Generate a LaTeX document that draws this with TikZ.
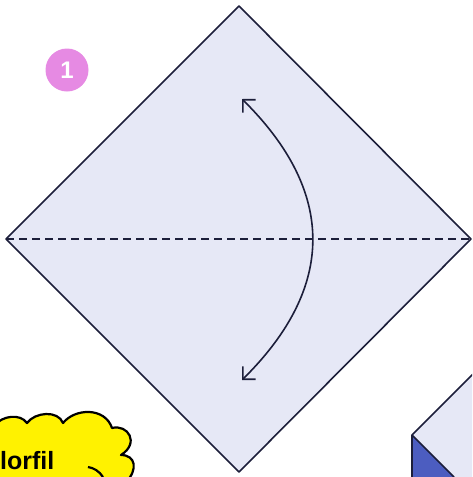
\documentclass[tikz,border=0pt]{standalone}
\usepackage{fontspec}
\setmainfont{Liberation Sans}
\usetikzlibrary{arrows.meta}
\definecolor{paper}{HTML}{E6E8F6}
\definecolor{ink}{HTML}{1C1E3A}
\definecolor{deepblue}{HTML}{4C5DC0}
\definecolor{badge}{HTML}{E68AE3}
\begin{document}
\begin{tikzpicture}[x=1pt,y=-1pt,
  edge/.style={draw=ink,line width=1.6pt,line join=round},
  foldline/.style={draw=ink,line width=1.5pt,dash pattern=on 8pt off 5pt},
  foldarrow/.style={draw=ink,line width=1.6pt,{Straight Barb[length=9pt,width=18pt]}-{Straight Barb[length=9pt,width=18pt]}},
  stepbadge/.style={circle,fill=badge,minimum size=43pt,inner sep=0pt,text=white,font=\bfseries\fontsize{24}{24}\selectfont},
  callout/.style={draw=black,line width=2.2pt,fill=yellow,line join=round}
]
\useasboundingbox (0,0) rectangle (472,477);
\begin{scope}
\clip (0,0) rectangle (472,477);
% main square
\coordinate (T) at (239,6);
\coordinate (L) at (6,239);
\coordinate (R) at (471,239);
\coordinate (B) at (239,472);
\filldraw[edge,fill=paper] (T) -- (R) -- (B) -- (L) -- cycle;
\draw[foldline] (L) -- (R);
% fold arrow
\coordinate (A1) at (242,99);
\coordinate (A2) at (242,380);
\draw[foldarrow] (A1) .. controls (336,192) and (336,287) .. (A2);
% step badge
\node[stepbadge] (n1) at (67,70) {1};
% next model piece (bottom right)
\coordinate (P) at (412,435);
\coordinate (PU) at (475,372);
\coordinate (PD) at (454,477);
\coordinate (PV) at (412,480);
\fill[paper] (P) -- (PU) -- (480,372) -- (480,480) -- (PV) -- cycle;
\fill[deepblue] (P) -- (PD) -- (PV) -- cycle;
\draw[edge] (PU) -- (P) -- (PV);
\draw[edge] (P) -- (PD);
% cloud callout
\filldraw[callout] (-5,425) .. controls (2,416) and (20,413) .. (27,423)
  .. controls (35,412) and (58,410) .. (63,423)
  .. controls (75,408) and (105,407) .. (112,428)
  .. controls (128,424) and (140,443) .. (121,455)
  .. controls (136,455) and (138,470) .. (126,482)
  -- (-5,482) -- cycle;
\node[anchor=base west,font=\bfseries\fontsize{25}{25}\selectfont,inner sep=0pt] (t) at (0,469) {lorfil};
\draw[black,line width=2.2pt] (88,467) .. controls (94,468) and (99,471) .. (103,477);
\end{scope}
\end{tikzpicture}
\end{document}
